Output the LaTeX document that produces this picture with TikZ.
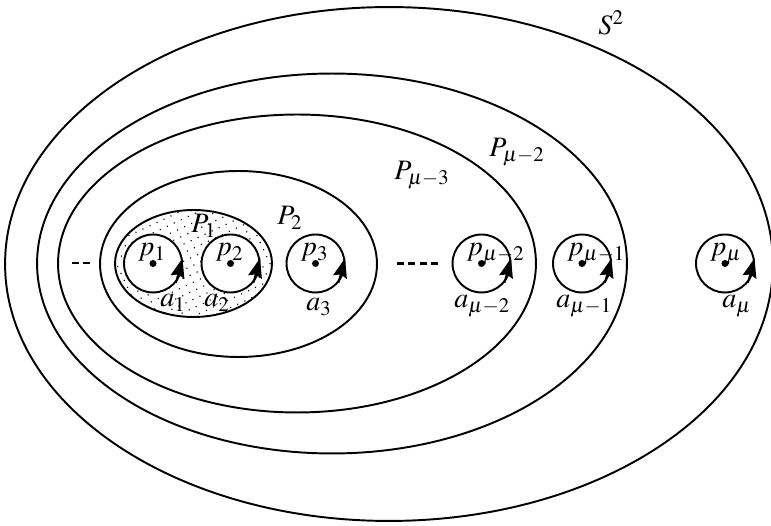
\documentclass[tikz,border=0pt]{standalone}
\usepackage{mathptmx}
\usetikzlibrary{positioning,shapes.geometric,arrows.meta,patterns.meta}

\tikzset{
  region/.style={draw, ellipse, line width=1.1pt, inner sep=0pt},
  shaded/.style={pattern={Dots[distance=4.4pt, radius=0.45pt, angle=25]}},
  puncture/.style={draw, circle, fill=white, line width=1.1pt,
                   inner sep=0pt, minimum size=1.16cm},
  pt/.style={circle, fill=black, inner sep=0pt, minimum size=4pt},
  lab/.style={inner sep=0pt, anchor=base west,
              font=\fontsize{16}{18}\selectfont},
  loop/.style={-{Stealth[length=11pt, width=8pt, inset=1.5pt]}, line width=1.1pt},
  gap/.style={line width=1.7pt, dash pattern=on 4pt off 2.5pt},
}

\begin{document}
\begin{tikzpicture}[x=0.02cm, y=-0.02cm]
\useasboundingbox (0,0) rectangle (771,526);

%% nested regions ====================================================
\node[region, minimum width=15.36cm, minimum height=10.28cm] (S)   at (389,264)   {};
\node[region, minimum width=11.80cm, minimum height=7.60cm]  (Pm2) at (332,263.5) {};
\node[region, minimum width=9.56cm,  minimum height=5.96cm]  (Pm3) at (297,263.5) {};
\node[region, minimum width=5.54cm,  minimum height=3.72cm]  (P2)  at (238.5,264) {};
\node[region, shaded, minimum width=3.14cm, minimum height=2.14cm] (P1) at (193.5,263.5) {};

\node[lab] (Slab)   at (598,35)  {$S^2$};
\node[lab] (Pm2lab) at (489,157) {$P_{\mu-2}$};
\node[lab] (Pm3lab) at (394,180) {$P_{\mu-3}$};
\node[lab] (P2lab)  at (277,225) {$P_2$};
\node[lab] (P1lab)  at (191,233) {$P_1$};

%% punctures with their loops ========================================
\foreach \n/\x/\ptxt/\ax/\ay/\atxt in {%
  1/153/{p_1}/160/307/{a_1},%
  2/230.5/{p_2}/204/307/{a_2},%
  3/315.5/{p_3}/306/311/{a_3},%
  m2/481.5/{p_{\mu-2}}/454/308/{a_{\mu-2}},%
  m1/582/{p_{\mu-1}}/556/308/{a_{\mu-1}},%
  m/725/{p_\mu}/722/308/{a_\mu}%
} {
  \node[puncture] (c\n) at (\x,263.5) {};
  \node[pt] (d\n) at (c\n.center) {};
  \draw[loop] (c\n.-40) -- (c\n.10);
  \node[lab] (p\n) at (\x-15,256) {$\ptxt$};
  \node[lab] (a\n) at (\ax,\ay) {$\atxt$};
}

%% omitted punctures
\coordinate (gapL1) at (72,263);
\coordinate (gapL2) at (91,263);
\coordinate (gapR1) at (397,263.5);
\coordinate (gapR2) at (438,263.5);
\draw[gap] (gapL1) -- (gapL2);
\draw[gap] (gapR1) -- (gapR2);

\end{tikzpicture}
\end{document}
